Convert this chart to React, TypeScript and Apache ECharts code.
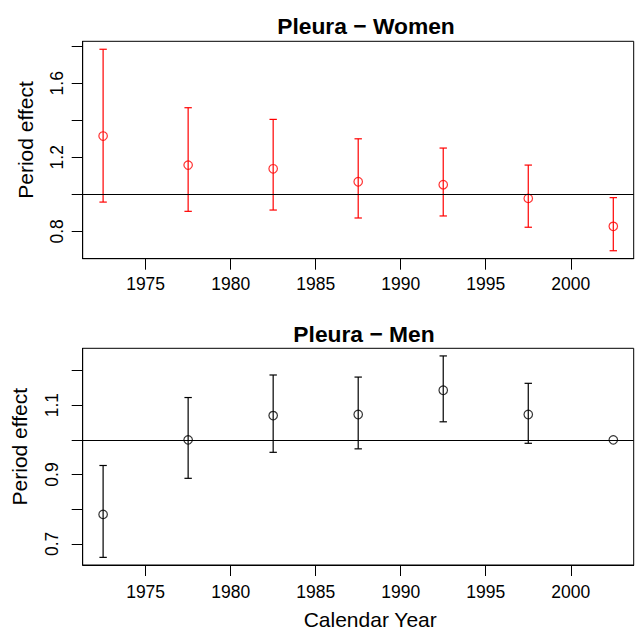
import React, { useEffect, useRef } from "react";
import * as echarts from "echarts";

const years = [1972.5, 1977.5, 1982.5, 1987.5, 1992.5, 1997.5, 2002.5];
const womenEst = [1.315, 1.158, 1.138, 1.068, 1.052, 0.978, 0.827];
const womenLo = [0.958, 0.908, 0.915, 0.872, 0.883, 0.822, 0.695];
const womenHi = [1.784, 1.468, 1.405, 1.3, 1.25, 1.158, 0.982];
const menEst = [0.785, 1.0, 1.07, 1.073, 1.143, 1.073, 1.0];
const menLo: (number | null)[] = [0.661, 0.889, 0.964, 0.974, 1.052, 0.99, null];
const menHi: (number | null)[] = [0.926, 1.122, 1.187, 1.181, 1.242, 1.163, null];
const xTicks = [1975, 1980, 1985, 1990, 1995, 2000];
const womenYTicks = [0.8, 1.0, 1.2, 1.4, 1.6, 1.8];
const womenYLabels = [0.8, 1.2, 1.6];
const menYTicks = [0.7, 0.8, 0.9, 1.0, 1.1, 1.2];
const menYLabels = [0.7, 0.9, 1.1];

const FONT = "'Liberation Sans', Arial, Helvetica, sans-serif";

function errorBarRender(color: string) {
  return (params: any, api: any) => {
    const x = api.value(0);
    const lo = api.value(1);
    const hi = api.value(2);
    const top = api.coord([x, hi]);
    const bot = api.coord([x, lo]);
    const hw = 3.7;
    const style = { stroke: color, lineWidth: 1.2 };
    return {
      type: "group",
      children: [
        { type: "line", shape: { x1: top[0], y1: top[1], x2: bot[0], y2: bot[1] }, style },
        { type: "line", shape: { x1: top[0] - hw, y1: top[1], x2: top[0] + hw, y2: top[1] }, style },
        { type: "line", shape: { x1: bot[0] - hw, y1: bot[1], x2: bot[0] + hw, y2: bot[1] }, style },
      ],
    };
  };
}

function xAxisCfg(gridIndex: number, margin: number, name?: string) {
  return {
    type: "value",
    gridIndex,
    min: 1971.3,
    max: 2003.7,
    splitLine: { show: false },
    axisLine: { show: true, lineStyle: { color: "#000", width: 1 } },
    axisTick: { show: true, length: 11, customValues: xTicks, lineStyle: { color: "#000", width: 1 } },
    axisLabel: {
      customValues: xTicks,
      margin,
      color: "#000",
      fontSize: 17.5,
      fontFamily: FONT,
      formatter: (v: number) => String(Math.round(v)),
    },
    name: name || "",
    nameLocation: "middle",
    nameGap: 44,
    nameTextStyle: { color: "#000", fontSize: 21, fontFamily: FONT, padding: [0, 0, 0, 24] },
  };
}

function yAxisCfg(gridIndex: number, min: number, max: number, ticks: number[], labels: number[], margin: number, nameGap: number) {
  return {
    type: "value",
    gridIndex,
    min,
    max,
    splitLine: { show: false },
    axisLine: { show: true, lineStyle: { color: "#000", width: 1 } },
    axisTick: { show: true, length: 11, customValues: ticks, lineStyle: { color: "#000", width: 1 } },
    axisLabel: {
      customValues: labels,
      rotate: 90,
      margin,
      color: "#000",
      fontSize: 17.5,
      fontFamily: FONT,
      formatter: (v: number) => v.toFixed(1),
    },
    name: "Period effect",
    nameLocation: "middle",
    nameRotate: 90,
    nameGap,
    nameTextStyle: { color: "#000", fontSize: 21, fontFamily: FONT, padding: [0, 0, 0, 20] },
  };
}

export default function App() {
  const ref = useRef<HTMLDivElement>(null);
  useEffect(() => {
    if (!ref.current) return;
    const chart = echarts.init(ref.current, null, { renderer: "svg" });
    const womenBars = years.map((y, i) => [y, womenLo[i], womenHi[i]]);
    const menBars = years
      .map((y, i) => [y, menLo[i], menHi[i]])
      .filter((d) => d[1] != null && d[2] != null);
    const refLine = {
      silent: true,
      symbol: ["none", "none"],
      label: { show: false },
      lineStyle: { color: "#000", width: 1, type: "solid" },
      data: [{ yAxis: 1 }],
    };
    const option: any = {
      animation: false,
      backgroundColor: "#fff",
      graphic: [
        {
          type: "text",
          x: 366,
          y: 26,
          style: {
            text: "Pleura − Women",
            font: `bold 22.8px ${FONT}`,
            fill: "#000",
            textAlign: "center",
            textVerticalAlign: "middle",
          },
        },
        {
          type: "text",
          x: 364,
          y: 334,
          style: {
            text: "Pleura − Men",
            font: `bold 22.8px ${FONT}`,
            fill: "#000",
            textAlign: "center",
            textVerticalAlign: "middle",
          },
        },
      ],
      grid: [
        { left: 82.7, top: 41.3, width: 551, height: 217.4, show: true, borderColor: "#000", borderWidth: 1, backgroundColor: "transparent" },
        { left: 82.7, top: 348.3, width: 551, height: 217.7, show: true, borderColor: "#000", borderWidth: 1, backgroundColor: "transparent" },
      ],
      xAxis: [xAxisCfg(0, 16), xAxisCfg(1, 18, "Calendar Year")],
      yAxis: [
        yAxisCfg(0, 0.652, 1.827, womenYTicks, womenYLabels, 17, 46.5),
        yAxisCfg(1, 0.639, 1.264, menYTicks, menYLabels, 22, 53),
      ],
      series: [
        {
          type: "custom",
          xAxisIndex: 0,
          yAxisIndex: 0,
          renderItem: errorBarRender("#ff0000"),
          encode: { x: 0, y: [1, 2] },
          data: womenBars,
          z: 3,
        },
        {
          type: "scatter",
          xAxisIndex: 0,
          yAxisIndex: 0,
          symbol: "circle",
          symbolSize: 8.5,
          itemStyle: { color: "rgba(0,0,0,0)", borderColor: "#ff0000", borderWidth: 1.2 },
          data: years.map((y, i) => [y, womenEst[i]]),
          markLine: refLine,
          z: 4,
        },
        {
          type: "custom",
          xAxisIndex: 1,
          yAxisIndex: 1,
          renderItem: errorBarRender("#000"),
          encode: { x: 0, y: [1, 2] },
          data: menBars,
          z: 3,
        },
        {
          type: "scatter",
          xAxisIndex: 1,
          yAxisIndex: 1,
          symbol: "circle",
          symbolSize: 8.5,
          itemStyle: { color: "rgba(0,0,0,0)", borderColor: "#000", borderWidth: 1.2 },
          data: years.map((y, i) => [y, menEst[i]]),
          markLine: refLine,
          z: 4,
        },
      ],
    };
    chart.setOption(option);
    return () => chart.dispose();
  }, []);
  return (
    <div
      ref={ref}
      style={{ position: "fixed", left: 0, top: 0, width: 636, height: 631, background: "#fff" }}
    />
  );
}
